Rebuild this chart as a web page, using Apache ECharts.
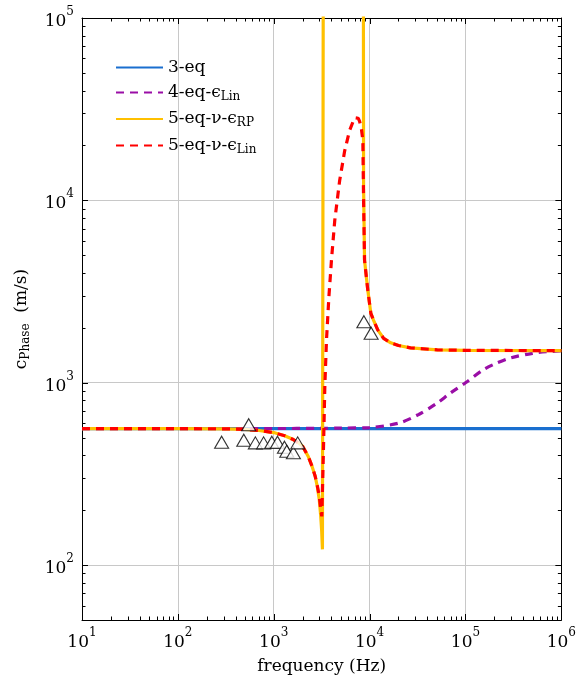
<!DOCTYPE html>
<html>
<head>
<meta charset="utf-8">
<script src="https://cdn.jsdelivr.net/npm/echarts@6/dist/echarts.min.js"></script>
<style>
html,body{margin:0;padding:0;background:#fff;}
#chart{width:579px;height:686px;}
</style>
</head>
<body>
<div id="chart"></div>
<script>
// ---- data (frequency Hz, phase speed m/s) ----
var seriesNames = ['3-eq', '4-eq-ϵLin', '5-eq-ν-ϵRP', '5-eq-ν-ϵLin'];

var eq3 = [[10, 560], [1e6, 560]];

var eq4Lin = [[10, 560], [1000, 561], [3000, 562], [5000, 564], [1e4, 568], [2e4, 600],
  [3.16e4, 665], [5e4, 770], [7e4, 880], [1e5, 1000], [1.5e5, 1170], [2e5, 1265],
  [3e5, 1370], [5e5, 1450], [7e5, 1480], [1e6, 1495]];

var eq5RP_low = [[10, 560], [100, 560], [300, 559], [500, 555], [700, 547], [1000, 533],
  [1300, 512], [1600, 488], [1800, 470], [2000, 448], [2290, 394], [2500, 350],
  [2710, 306], [2850, 268], [2980, 230], [3080, 190], [3160, 155], [3220, 122], [3300, 1e6]];

var eq5RP_high = [[8580, 1e6], [8650, 12000], [8850, 4700], [9570, 3220], [10300, 2400],
  [11000, 2200], [12150, 1950], [14000, 1750], [16600, 1656], [20000, 1600],
  [26700, 1553], [50800, 1514], [1e5, 1505], [1e6, 1500]];

var eq5Lin = [[10, 560], [100, 560], [300, 559], [500, 555], [700, 547], [1000, 533],
  [1300, 512], [1600, 488], [1800, 470], [2000, 448], [2290, 394], [2500, 350],
  [2710, 306], [2850, 272], [2980, 240], [3080, 205], [3170, 185], [3300, 430],
  [3410, 955], [3550, 1718], [3760, 2960], [4000, 4700], [4330, 7780], [4870, 12860],
  [5500, 18750], [6190, 24200], [6970, 28400], [7240, 29000], [7600, 28200],
  [7850, 27200], [8200, 24800], [8500, 21300], [8650, 10000], [8850, 4700],
  [9570, 3220], [10300, 2400], [11000, 2200], [12150, 1950], [14000, 1750],
  [16600, 1656], [20000, 1600], [26700, 1553], [50800, 1514], [1e5, 1505], [1e6, 1500]];

var experiment = [[286, 472], [548, 589], [487, 484], [643, 468], [784, 468], [955, 472],
  [1094, 472], [1293, 443], [1368, 421], [1603, 413], [1778, 468], [8710, 2160], [10370, 1870]];

var xMajor = [10, 100, 1000, 1e4, 1e5, 1e6];
var yMajor = [100, 1000, 1e4, 1e5];
var xMin = 10, xMax = 1e6, yMin = 50, yMax = 1e5;

function minorList(lo, hi) {
  var out = [];
  for (var d = 1; d <= 1e6; d *= 10) {
    for (var k = 2; k <= 9; k++) {
      var v = k * d;
      if (v > lo && v < hi) out.push(v);
    }
  }
  return out;
}
var xMinor = minorList(xMin, xMax);
var yMinor = minorList(yMin, yMax);

// tick marks: [x, y, side(0 bottom,1 top,2 left,3 right), length]
var MAJ = 6, MIN = 3.5;
var tickData = [];
xMajor.forEach(function (v) { tickData.push([v, yMin, 0, MAJ], [v, yMax, 1, MAJ]); });
xMinor.forEach(function (v) { tickData.push([v, yMin, 0, MIN], [v, yMax, 1, MIN]); });
yMajor.forEach(function (v) { tickData.push([xMin, v, 2, MAJ], [xMax, v, 3, MAJ]); });
yMinor.forEach(function (v) { tickData.push([xMin, v, 2, MIN], [xMax, v, 3, MIN]); });

// ---- styling ----
var FONT = 'DejaVu Serif';
var FS = 17;
var powRich = {
  b: {fontFamily: FONT, fontSize: FS, color: '#000', lineHeight: 24, verticalAlign: 'bottom'},
  e: {fontFamily: FONT, fontSize: 12, color: '#000', lineHeight: 14, verticalAlign: 'top'}
};
function powFmt(v) {
  return '{b|10}{e|' + Math.round(Math.log10(v)) + '}';
}
var legendRich = {
  t: {fontFamily: FONT, fontSize: FS, color: '#000', lineHeight: 20},
  s: {fontFamily: FONT, fontSize: 12, color: '#000', lineHeight: 12, verticalAlign: 'bottom'}
};
var legendFmt = {
  '3-eq': '{t|3-eq}',
  '4-eq-ϵLin': '{t|4-eq-ϵ}{s|Lin}',
  '5-eq-ν-ϵRP': '{t|5-eq-ν-ϵ}{s|RP}',
  '5-eq-ν-ϵLin': '{t|5-eq-ν-ϵ}{s|Lin}'
};
var colors = ['#1a6fcf', '#9a0ea6', '#ffc000', '#ff0000'];
var GRID = '#c8c8c8';
var LW = 3.2, DASH = [8, 6];

var option = {
  backgroundColor: '#fff',
  animation: false,
  grid: {left: 82, right: 14, top: 18, bottom: 66, containLabel: false},
  legend: {
    data: seriesNames,
    orient: 'vertical',
    left: 115, top: 59, padding: 0,
    itemWidth: 47, itemHeight: 12, itemGap: 8,
    formatter: function (n) { return legendFmt[n]; },
    itemStyle: {opacity: 0},
    textStyle: {fontFamily: FONT, fontSize: FS, color: '#000', rich: legendRich}
  },
  xAxis: [
    {type: 'log', logBase: 10, min: xMin, max: xMax, position: 'bottom',
      axisLine: {show: true, onZero: false, lineStyle: {color: '#000', width: 1}},
      axisTick: {show: false},
      axisLabel: {show: true, customValues: xMajor, margin: 7, formatter: powFmt, rich: powRich},
      splitLine: {show: true, lineStyle: {color: GRID, width: 1}},
      name: 'frequency (Hz)', nameLocation: 'middle', nameGap: 38,
      nameTextStyle: {fontFamily: FONT, fontSize: FS, color: '#000'}},
    {type: 'log', logBase: 10, min: xMin, max: xMax, position: 'top',
      axisLine: {show: true, onZero: false, lineStyle: {color: '#000', width: 1}},
      axisTick: {show: false}, axisLabel: {show: false}, splitLine: {show: false}}
  ],
  yAxis: [
    {type: 'log', logBase: 10, min: yMin, max: yMax, position: 'left',
      axisLine: {show: true, onZero: false, lineStyle: {color: '#000', width: 1}},
      axisTick: {show: false},
      axisLabel: {show: true, customValues: yMajor, margin: 8, formatter: powFmt, rich: powRich},
      splitLine: {show: true, lineStyle: {color: GRID, width: 1}},
      name: '{c|c}{s|Phase}{c|  (m/s)}', nameLocation: 'middle', nameGap: 50,
      nameTextStyle: {fontFamily: FONT, fontSize: FS, color: '#000',
        rich: {c: {fontFamily: FONT, fontSize: FS, color: '#000', lineHeight: 20},
               s: {fontFamily: FONT, fontSize: 12, color: '#000', lineHeight: 12, verticalAlign: 'bottom'}}}},
    {type: 'log', logBase: 10, min: yMin, max: yMax, position: 'right',
      axisLine: {show: true, onZero: false, lineStyle: {color: '#000', width: 1}},
      axisTick: {show: false}, axisLabel: {show: false}, splitLine: {show: false}}
  ],
  series: [
    {name: seriesNames[0], type: 'line', data: eq3, symbol: 'none', clip: true, z: 2,
      lineStyle: {color: colors[0], width: LW}, itemStyle: {color: colors[0]}},
    {name: seriesNames[1], type: 'line', data: eq4Lin, symbol: 'none', clip: true, z: 3, smooth: 0.3,
      lineStyle: {color: colors[1], width: LW, type: DASH}, itemStyle: {color: colors[1]}},
    {name: seriesNames[2], type: 'line', data: eq5RP_low, symbol: 'none', clip: true, z: 4,
      lineStyle: {color: colors[2], width: LW}, itemStyle: {color: colors[2]}},
    {name: seriesNames[2], type: 'line', data: eq5RP_high, symbol: 'none', clip: true, z: 4,
      lineStyle: {color: colors[2], width: LW}, itemStyle: {color: colors[2]}},
    {name: seriesNames[3], type: 'line', data: eq5Lin, symbol: 'none', clip: true, z: 5,
      lineStyle: {color: colors[3], width: LW, type: DASH}, itemStyle: {color: colors[3]}},
    {name: 'experiment', type: 'scatter', data: experiment, symbol: 'triangle', symbolSize: [14, 12],
      z: 6, itemStyle: {color: '#fff', borderColor: '#000', borderWidth: 1.1}},
    {name: 'ticks', type: 'custom', data: tickData, z: 7, silent: true, clip: false,
      encode: {x: 0, y: 1},
      renderItem: function (params, api) {
        var p = api.coord([api.value(0), api.value(1)]);
        var side = api.value(2), len = api.value(3);
        var x1 = p[0], y1 = p[1], x2 = x1, y2 = y1;
        if (side === 0 || side === 1) { x1 = x2 = Math.round(x1) + 0.5; y2 = y1 + (side === 0 ? -len : len); }
        else { y1 = y2 = Math.round(y1) + 0.5; x2 = x1 + (side === 2 ? len : -len); }
        return {type: 'line', shape: {x1: x1, y1: y1, x2: x2, y2: y2},
          style: {stroke: '#000', lineWidth: 1}};
      }}
  ]
};

var chart = echarts.init(document.getElementById('chart'), null, {renderer: 'canvas'});
chart.setOption(option);
</script>
</body>
</html>
